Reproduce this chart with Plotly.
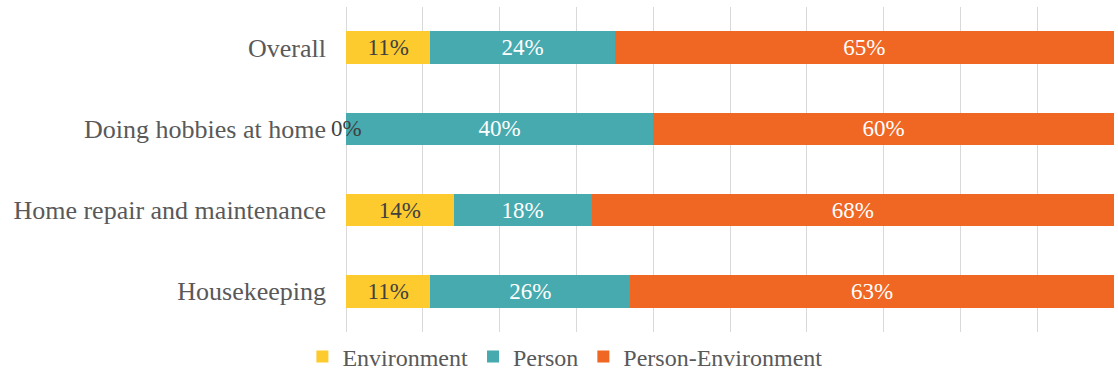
import plotly.graph_objects as go

categories = ["Overall", "Doing hobbies at home", "Home repair and maintenance", "Housekeeping"]
series_names = ["Environment", "Person", "Person-Environment"]
environment = [11, 0, 14, 11]
person = [24, 40, 18, 26]
person_environment = [65, 60, 68, 63]

colors = ["#FECB2F", "#47AAAE", "#F06623"]
text_colors = ["#404040", "#FFFFFF", "#FFFFFF"]
FONT = "Liberation Serif"

fig = go.Figure()
for name, vals, col, tcol in zip(series_names, [environment, person, person_environment], colors, text_colors):
    texts = [f"{v}%" if v > 0 else "" for v in vals]
    fig.add_trace(go.Bar(
        name=name, y=categories, x=vals, orientation="h",
        marker=dict(color=col, line=dict(width=0)),
        text=texts, textposition="inside", insidetextanchor="middle",
        textfont=dict(color=tcol, size=23, family=FONT),
        constraintext="none",
    ))

# zero-value labels shown at the bar origin
for cat, v in zip(categories, environment):
    if v == 0:
        fig.add_annotation(x=v, y=cat, xref="x", yref="y", text=f"{v}%", showarrow=False,
                           xanchor="center", font=dict(color="#404040", size=23, family=FONT))

fig.update_layout(
    barmode="stack", bargap=0.6,
    width=1118, height=380,
    margin=dict(l=346, r=4, t=7, b=48, autoexpand=False),
    paper_bgcolor="white", plot_bgcolor="white",
    font=dict(family=FONT, color="#595959", size=26),
    legend=dict(orientation="h", x=0.285, xanchor="center",
                yref="container", y=0.12, yanchor="top",
                font=dict(size=24, color="#595959", family=FONT), traceorder="normal",
                itemwidth=30),
    showlegend=True,
)
fig.update_xaxes(range=[0, 100], dtick=10, showticklabels=False, showgrid=True,
                 gridcolor="#D9D9D9", gridwidth=1, zeroline=True, zerolinecolor="#D9D9D9",
                 zerolinewidth=1, showline=False, fixedrange=True)
fig.update_yaxes(autorange="reversed", showgrid=False, zeroline=False, showline=False,
                 ticklabelstandoff=19, tickfont=dict(size=26, color="#595959", family=FONT))

fig.write_html("out.html")
